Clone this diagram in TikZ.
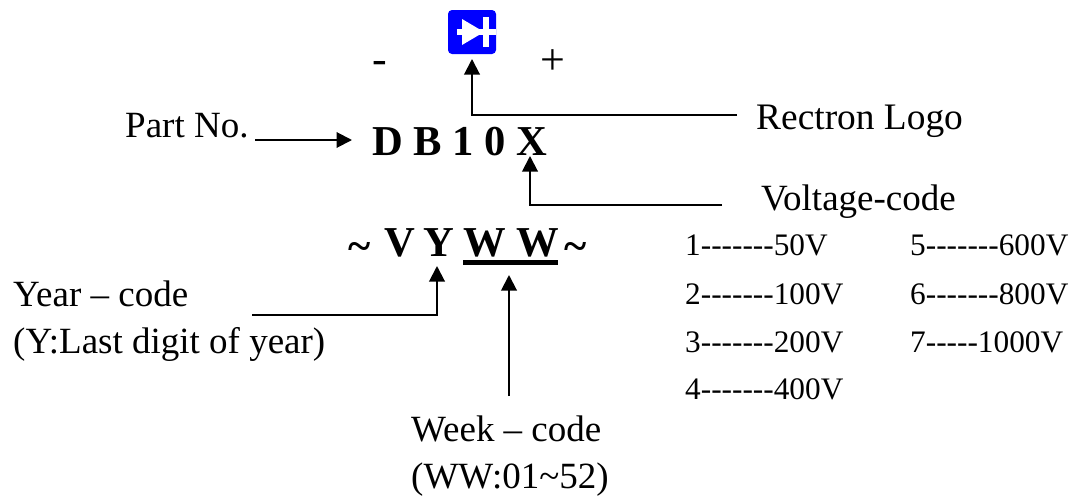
\documentclass[tikz,border=0pt]{standalone}
\usepackage{fontspec}
\setmainfont{Liberation Serif}
\usetikzlibrary{arrows.meta}
\newcommand{\fsz}[1]{\fontsize{#1pt}{#1pt}\selectfont}
\tikzset{
  x=1pt,y=-1pt,
  lbl/.style={inner sep=0pt,anchor=base west,font=\fsz{37}},
  sign/.style={inner sep=0pt,anchor=base west,font=\fsz{44}},
  small/.style={inner sep=0pt,anchor=base west,font=\fsz{31.3}},
  code/.style={inner sep=0pt,anchor=base west,font=\fsz{42.6}\bfseries},
  conn/.style={line width=2pt,-{Triangle[length=15.5pt,width=15.5pt]}},
}
\begin{document}
\begin{tikzpicture}
\useasboundingbox (0,0) rectangle (1075,498);
% logo
\node[fill={rgb,255:red,0;green,0;blue,255},rounded corners=4pt,minimum width=48pt,minimum height=44pt,inner sep=0pt] (logo) at (472,32) {};
\fill[white] (462,19) -- (462,45) -- (484,32) -- cycle;
\fill[white] (483,17) rectangle (489,47);
\fill[white] (457,29) rectangle (496,35);
% signs
\node[sign] (minus) at (372,73) {-};
\node[sign] (plus) at (540,74) {+};
% labels
\node[lbl] (part) at (125,137) {Part No.};
\node[lbl,font=\fsz{37.4}] (rectron) at (756,129) {Rectron Logo};
\node[code] (dbcode) at (372,155) {D B 1 0 X};
\node[lbl] (volt) at (761,210) {Voltage-code};
\node[code] (tl) at (348,260) {\~{}};
\node[code] (vv) at (384,256) {V};
\node[code] (yy) at (423,256) {Y};
\node[code] (w1) at (463,256) {W};
\node[code] (w2) at (516,256) {W};
\node[code] (tr) at (564,260) {\~{}};
\draw[line width=5pt] (463,262) coordinate (ul1) -- (558,262) coordinate (ul2);
\node[lbl] (year) at (13,306) {Year -- code};
\node[lbl] (yearb) at (13,353) {(Y:Last digit of year)};
\node[lbl] (week) at (411,441) {Week -- code};
\node[lbl] (weekb) at (411,488) {(WW:01\textasciitilde52)};
% table
\node[small] (v1) at (685,255) {1-{}-{}-{}-{}-{}-{}-50V};
\node[small] (v2) at (685,304) {2-{}-{}-{}-{}-{}-{}-100V};
\node[small] (v3) at (685,352) {3-{}-{}-{}-{}-{}-{}-200V};
\node[small] (v4) at (685,399) {4-{}-{}-{}-{}-{}-{}-400V};
\node[small] (v5) at (910,255) {5-{}-{}-{}-{}-{}-{}-600V};
\node[small] (v6) at (910,304) {6-{}-{}-{}-{}-{}-{}-800V};
\node[small] (v7) at (910,352) {7-{}-{}-{}-{}-1000V};
% connectors
\coordinate (s1) at (737,115);
\coordinate (e1) at (472,59);
\coordinate (s2) at (722,205);
\coordinate (e2) at (530,156);
\coordinate (s3) at (255,140);
\coordinate (e3) at (352,140);
\coordinate (s4) at (252,315);
\coordinate (e4) at (437,266);
\coordinate (s5) at (509,396);
\coordinate (e5) at (509,275);
\draw[conn] (s1) -| (e1);
\draw[conn] (s2) -| (e2);
\draw[conn] (s3) -- (e3);
\draw[conn] (s4) -| (e4);
\draw[conn] (s5) -- (e5);
\end{tikzpicture}
\end{document}
